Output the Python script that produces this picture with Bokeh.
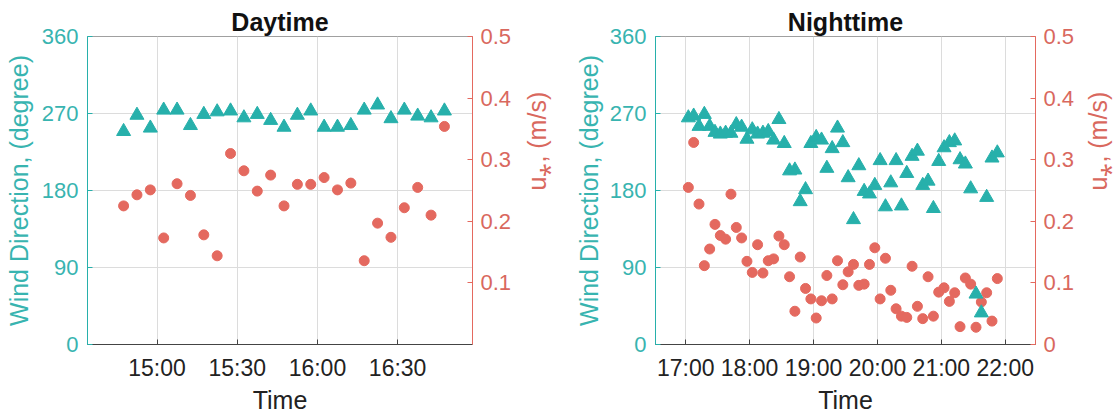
import math
from bokeh.plotting import figure
from bokeh.models import Range1d, LinearAxis, FixedTicker
from bokeh.layouts import row
from bokeh.embed import file_html
from bokeh.resources import INLINE

# ---------------- data ----------------
day_times = ["14:47:30", "14:52:30", "14:57:30", "15:02:30", "15:07:30", "15:12:30",
             "15:17:30", "15:22:30", "15:27:30", "15:32:30", "15:37:30", "15:42:30",
             "15:47:30", "15:52:30", "15:57:30", "16:02:30", "16:07:30", "16:12:30",
             "16:17:30", "16:22:30", "16:27:30", "16:32:30", "16:37:30", "16:42:30",
             "16:47:30"]
day_wd = [249, 268, 253, 274, 274, 256, 269, 272, 273, 265, 269, 262, 254,
          268, 273, 254, 254, 256, 274, 280, 264, 274, 267, 265, 273]
day_u = [0.225, 0.243, 0.251, 0.173, 0.261, 0.242, 0.178, 0.144, 0.310, 0.282,
         0.249, 0.275, 0.225, 0.260, 0.260, 0.271, 0.251, 0.262, 0.136, 0.197,
         0.174, 0.222, 0.255, 0.210, 0.354]

night_times = ["17:02:30", "17:07:30", "17:12:30", "17:17:30", "17:22:30", "17:27:30",
               "17:32:30", "17:37:30", "17:42:30", "17:47:30", "17:52:30", "17:57:30",
               "18:02:30", "18:07:30", "18:12:30", "18:17:30", "18:22:30", "18:27:30",
               "18:32:30", "18:37:30", "18:42:30", "18:47:30", "18:52:30", "18:57:30",
               "19:02:30", "19:07:30", "19:12:30", "19:17:30", "19:22:30", "19:27:30",
               "19:32:30", "19:37:30", "19:42:30", "19:47:30", "19:52:30", "19:57:30",
               "20:02:30", "20:07:30", "20:12:30", "20:17:30", "20:22:30", "20:27:30",
               "20:32:30", "20:37:30", "20:42:30", "20:47:30", "20:52:30", "20:57:30",
               "21:02:30", "21:07:30", "21:12:30", "21:17:30", "21:22:30", "21:27:30",
               "21:32:30", "21:37:30", "21:42:30", "21:47:30", "21:52:30"]
night_wd = [265, 267, 255, 269, 255, 248, 246, 247, 247, 257, 254, 240,
            251, 246, 247, 249, 239, 263, 235, 203, 204, 167, 181, 235,
            242, 239, 206, 229, 253, 236, 195, 146, 209, 179, 176, 186,
            215, 161, 189, 215, 162, 200, 220, 226, 186, 191, 159, 214,
            230, 236, 238, 216, 211, 182, 59, 37, 172, 218, 224]
night_u = [0.255, 0.328, 0.228, 0.128, 0.155, 0.195, 0.177, 0.171, 0.244, 0.190,
           0.173, 0.135, 0.117, 0.162, 0.116, 0.136, 0.139, 0.176, 0.162, 0.110,
           0.054, 0.142, 0.091, 0.074, 0.043, 0.071, 0.112, 0.074, 0.136, 0.097,
           0.118, 0.130, 0.096, 0.098, 0.130, 0.157, 0.074, 0.140, 0.088, 0.058,
           0.046, 0.044, 0.127, 0.062, 0.042, 0.110, 0.046, 0.085, 0.092, 0.070,
           0.084, 0.029, 0.108, 0.098, 0.028, 0.069, 0.084, 0.038, 0.107]

day_ticks = ["15:00", "15:30", "16:00", "16:30"]
night_ticks = ["17:00", "18:00", "19:00", "20:00", "21:00", "22:00"]
wd_ticks = [0, 90, 180, 270, 360]
day_u_ticks = [0.1, 0.2, 0.3, 0.4, 0.5]
night_u_ticks = [0, 0.1, 0.2, 0.3, 0.4, 0.5]
day_xlim = ["14:34:00", "16:58:00"]
night_xlim = ["16:31:40", "22:28:20"]

# ---------------- style ----------------
TEAL = "#27B0AB"
TEAL_TXT = "#38B4B0"
SALMON = "#E4695F"
SALMON_TXT = "#D9685E"
FONT = "Liberation Sans"
FRAME_H = 308
BORDER_B = 69


def hrs(s):
    parts = [int(v) for v in s.split(":")]
    while len(parts) < 3:
        parts.append(0)
    return parts[0] + parts[1] / 60 + parts[2] / 3600


def panel(title, times, wd, us, xlim, xt, ut, bl, fw, br, lstand, rstand):
    x = [hrs(t) for t in times]
    p = figure(frame_width=fw, frame_height=FRAME_H,
               min_border_left=bl, min_border_right=br,
               min_border_top=36, min_border_bottom=BORDER_B,
               x_range=Range1d(hrs(xlim[0]), hrs(xlim[1])),
               y_range=Range1d(0, 360),
               output_backend="svg", toolbar_location=None, title=title)
    p.title.text_font = FONT
    p.title.text_font_size = "25px"
    p.title.text_font_style = "bold"
    p.title.align = "center"
    p.title.text_color = "#111111"
    p.title.standoff = 2
    p.outline_line_color = "#A0A0A0"
    p.background_fill_color = "white"
    p.border_fill_color = "white"

    xticker = FixedTicker(ticks=[hrs(t) for t in xt])
    p.xaxis.ticker = xticker
    p.xgrid.ticker = xticker
    p.xaxis.major_label_overrides = {hrs(t): t for t in xt}
    p.xaxis.axis_label = "Time"
    ax = p.xaxis[0]
    ax.axis_line_color = "#444444"
    ax.major_tick_line_color = "#444444"
    ax.major_tick_in = 5
    ax.major_tick_out = 0
    ax.minor_tick_line_color = None
    ax.major_label_text_font = FONT
    ax.major_label_text_font_size = "23px"
    ax.major_label_text_color = "#222222"
    ax.major_label_standoff = 10
    ax.axis_label_text_font = FONT
    ax.axis_label_text_font_size = "25px"
    ax.axis_label_text_font_style = "normal"
    ax.axis_label_text_color = "#222222"
    ax.axis_label_standoff = 2

    yticker = FixedTicker(ticks=wd_ticks)
    p.yaxis.ticker = yticker
    p.ygrid.ticker = yticker
    ly = p.yaxis[0]
    ly.axis_label = "Wind Direction, (degree)"
    ly.axis_line_color = TEAL
    ly.major_tick_line_color = TEAL
    ly.major_tick_in = 5
    ly.major_tick_out = 0
    ly.minor_tick_line_color = None
    ly.major_label_text_font = FONT
    ly.major_label_text_font_size = "22px"
    ly.major_label_text_color = TEAL_TXT
    ly.major_label_standoff = 9
    ly.axis_label_text_font = FONT
    ly.axis_label_text_font_size = "25px"
    ly.axis_label_text_font_style = "normal"
    ly.axis_label_text_color = TEAL_TXT
    ly.axis_label_standoff = lstand

    p.xgrid.grid_line_color = "#DCDCDC"
    p.ygrid.grid_line_color = "#DCDCDC"

    p.extra_y_ranges = {"u": Range1d(0, 0.5)}
    ry = LinearAxis(y_range_name="u", ticker=FixedTicker(ticks=ut),
                    axis_label="u\u204E, (m/s)")
    ry.axis_label_orientation = math.pi / 2
    ry.axis_line_color = SALMON
    ry.major_tick_line_color = SALMON
    ry.major_tick_in = 5
    ry.major_tick_out = 0
    ry.minor_tick_line_color = None
    ry.major_label_text_font = FONT
    ry.major_label_text_font_size = "22px"
    ry.major_label_text_color = SALMON_TXT
    ry.major_label_standoff = 8
    ry.axis_label_text_font = FONT
    ry.axis_label_text_font_size = "25px"
    ry.axis_label_text_font_style = "normal"
    ry.axis_label_text_color = SALMON_TXT
    ry.axis_label_standoff = rstand
    p.add_layout(ry, "right")

    p.scatter(x, us, marker="circle", size=10, fill_color=SALMON,
              line_color=SALMON, y_range_name="u")
    p.scatter(x, wd, marker="triangle", size=14, fill_color=TEAL,
              line_color=TEAL)
    return p


p1 = panel("Daytime", day_times, day_wd, day_u, day_xlim, day_ticks,
           day_u_ticks, 87, 385, 99, 6, 23)
p2 = panel("Nighttime", night_times, night_wd, night_u, night_xlim, night_ticks,
           night_u_ticks, 83, 380, 84, 4, 21)

p = row(p1, p2)
open("out.html", "w").write(file_html(p, INLINE))
